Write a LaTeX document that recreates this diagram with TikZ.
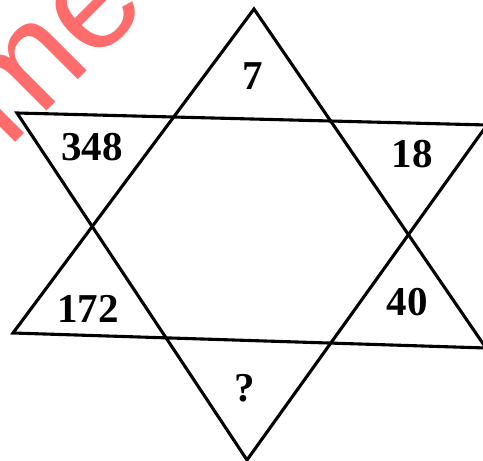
\documentclass[tikz,border=0pt]{standalone}
\usepackage{fontspec}
\setmainfont{Liberation Serif}
\setsansfont{Liberation Sans}
\usetikzlibrary{positioning,calc}
\definecolor{wmred}{RGB}{255,108,108}
\tikzset{
  edge/.style={draw, line width=3.1pt, line join=miter},
  num/.style={font=\fontsize{41}{44}\selectfont\bfseries, inner sep=0pt},
  wmark/.style={font=\sffamily\fontsize{145}{150}\selectfont, text=wmred, inner sep=0pt}
}
\begin{document}
\begin{tikzpicture}[x=1pt, y=-1pt]
  \useasboundingbox (0,0) rectangle (483,461);
  \clip (0,0) rectangle (483,461);

  % watermark remnant
  \node[wmark, rotate=45, anchor=base west] (wm) at (8,150) {me};

  % upward triangle
  \coordinate (up)  at (254,9);
  \coordinate (upl) at (13,333);
  \coordinate (upr) at (486,348);
  % downward triangle
  \coordinate (dnl) at (17,113);
  \coordinate (dnr) at (487,125);
  \coordinate (dn)  at (247,460);

  \draw[edge] (up) -- (upl) -- (upr) -- cycle;
  \draw[edge] (dnl) -- (dnr) -- (dn) -- cycle;

  \node[num] (n7)   at (253,76)  {7};
  \node[num] (n348) at (92,147)  {348};
  \node[num] (n18)  at (412,154) {18};
  \node[num] (n172) at (88,309)  {172};
  \node[num] (n40)  at (407,302) {40};
  \node[num] (nq)   at (245,388) {?};
\end{tikzpicture}
\end{document}
